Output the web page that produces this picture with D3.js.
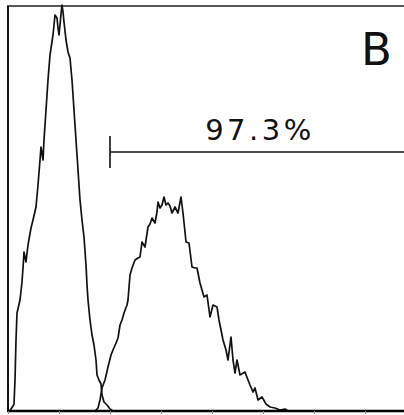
<!DOCTYPE html>
<html>
<head>
<meta charset="utf-8">
<script src="https://cdn.jsdelivr.net/npm/d3@7"></script>
<style>
  body { margin: 0; background: #fff; }
  svg { display: block; }
</style>
</head>
<body>
<svg id="chart" width="404" height="415"></svg>
<script>
// channel / count pairs
const negChannel = [2, 3, 5, 6, 7, 8, 9, 12, 14, 15, 16, 18, 20, 23, 25, 28, 30, 32, 33, 35, 36, 38, 40, 42, 45, 47, 49, 50, 51, 52, 53, 54, 55, 56, 58, 60, 62, 64, 66, 68, 70, 72, 74, 76, 78, 79, 80, 82, 84, 86, 88, 89, 91, 93, 94, 96, 99, 102, 105, 112];
const negCount = [0, 2, 5, 7, 31, 71, 98, 111, 129, 143, 159, 149, 166, 183, 191, 204, 226, 251, 264, 251, 271, 301, 331, 356, 376, 396, 393, 383, 376, 386, 397, 406, 399, 389, 371, 359, 353, 331, 301, 271, 241, 211, 191, 174, 146, 126, 111, 91, 76, 66, 51, 36, 31, 27, 16, 9, 6, 2, 0, 0];

const posChannel = [87, 90, 92, 94, 97, 100, 103, 105, 108, 110, 112, 114, 116, 119, 120, 122, 124, 127, 130, 132, 134, 137, 140, 142, 144, 147, 149, 150, 152, 154, 156, 158, 160, 162, 164, 167, 170, 173, 175, 177, 178, 181, 184, 187, 189, 192, 194, 196, 199, 202, 205, 209, 211, 213, 215, 218, 220, 223, 225, 227, 229, 232, 237, 240, 242, 245, 247, 250, 254, 258, 262, 267, 272, 277, 280, 284, 292];
const posCount = [0, 3, 11, 23, 31, 44, 56, 61, 68, 73, 86, 91, 98, 106, 111, 136, 143, 151, 153, 154, 169, 164, 184, 187, 193, 188, 199, 209, 203, 206, 214, 206, 208, 205, 198, 204, 198, 214, 198, 179, 169, 168, 144, 143, 143, 128, 121, 114, 116, 94, 106, 104, 91, 81, 71, 61, 51, 74, 51, 38, 51, 36, 39, 31, 26, 19, 23, 11, 14, 7, 4, 3, 1, 2, 0, 0, 0];

const xTicks = [0, 51, 102, 153, 204, 255, 306, 357];
const gateStart = 102;
const gateLabel = "97.3%";
const panelLabel = "B";

const svg = d3.select('#chart');
const plotLeft = 8, plotRight = 404, plotTop = 6, plotBottom = 411;

const x = d3.scaleLinear().domain([0, 396]).range([plotLeft, plotRight]);
const y = d3.scaleLinear().domain([0, 405]).range([plotBottom, plotTop]);

// frame: left axis, top line
svg.append('line')
  .attr('x1', plotLeft).attr('x2', plotLeft)
  .attr('y1', plotTop).attr('y2', plotBottom)
  .attr('stroke', '#111').attr('stroke-width', 2);
svg.append('line')
  .attr('x1', plotLeft - 1).attr('x2', plotRight)
  .attr('y1', plotTop).attr('y2', plotTop)
  .attr('stroke', '#222').attr('stroke-width', 1.5);

// histograms
const line = d3.line()
  .x(d => x(d[0]))
  .y(d => y(d[1]));

[[negChannel, negCount], [posChannel, posCount]].forEach(function(series) {
  const pts = series[0].map((c, i) => [c, series[1][i]]);
  svg.append('path')
    .datum(pts)
    .attr('d', line)
    .attr('fill', 'none')
    .attr('stroke', '#111')
    .attr('stroke-width', 1.7)
    .attr('stroke-linejoin', 'round');
});

// bottom axis
const xAxis = d3.axisBottom(x)
  .tickValues(xTicks)
  .tickSize(3)
  .tickFormat('');
const gx = svg.append('g')
  .attr('transform', `translate(0,${plotBottom})`)
  .call(xAxis);
gx.select('.domain').attr('stroke', '#000').attr('stroke-width', 2.5)
  .attr('d', `M${plotLeft - 1},0H${plotRight}`);
gx.selectAll('.tick line').attr('stroke', '#888');

// gate marker
const gateY = 152;
svg.append('line')
  .attr('x1', x(gateStart)).attr('x2', plotRight)
  .attr('y1', gateY).attr('y2', gateY)
  .attr('stroke', '#111').attr('stroke-width', 1.6);
svg.append('line')
  .attr('x1', x(gateStart)).attr('x2', x(gateStart))
  .attr('y1', gateY - 16).attr('y2', gateY + 16)
  .attr('stroke', '#111').attr('stroke-width', 1.6);

svg.append('text')
  .attr('x', 260).attr('y', 140)
  .attr('text-anchor', 'middle')
  .attr('font-family', 'DejaVu Sans')
  .attr('font-size', 29)
  .attr('letter-spacing', 3.5)
  .attr('fill', '#111')
  .text(gateLabel);

svg.append('text')
  .attr('x', 361).attr('y', 65)
  .attr('font-family', 'DejaVu Sans')
  .attr('font-size', 45)
  .attr('fill', '#111')
  .text(panelLabel);
</script>
</body>
</html>
